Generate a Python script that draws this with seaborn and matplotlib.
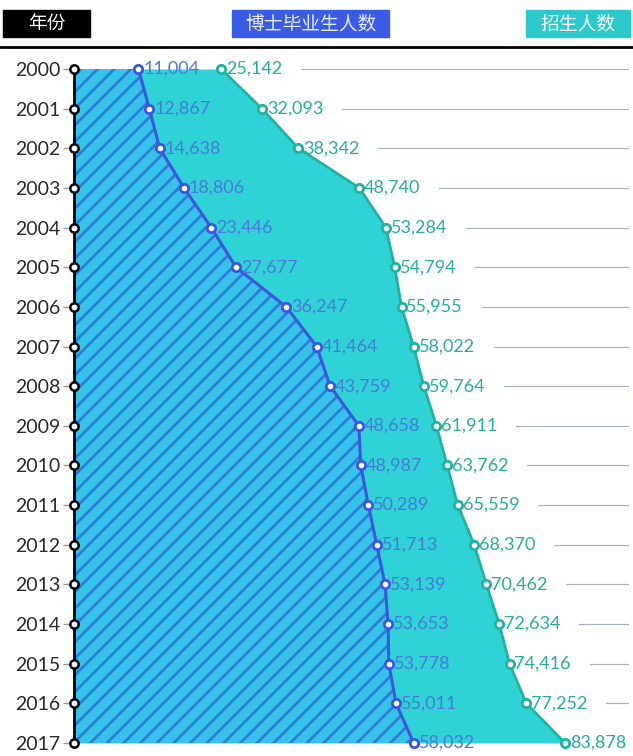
import matplotlib
matplotlib.use("Agg")
import matplotlib.pyplot as plt
import seaborn as sns
from matplotlib.patches import Rectangle
from matplotlib.lines import Line2D

# 数据
years = list(range(2000, 2018))
grad = [11004, 12867, 14638, 18806, 23446, 27677, 36247, 41464, 43759,
        48658, 48987, 50289, 51713, 53139, 53653, 53778, 55011, 58032]
enroll = [25142, 32093, 38342, 48740, 53284, 54794, 55955, 58022, 59764,
          61911, 63762, 65559, 68370, 70462, 72634, 74416, 77252, 83878]
headers = ["年份", "博士毕业生人数", "招生人数"]

sns.set_style("white")
plt.rcParams['font.family'] = ['Lato', 'Noto Sans CJK SC', 'DejaVu Sans']
plt.rcParams['hatch.linewidth'] = 2.0

W, H = 633, 756
fig = plt.figure(figsize=(W / 100, H / 100), dpi=100)

px_per_unit = (565 - 74) / 83878
row = (743 - 69) / 17
ax = fig.add_axes([74 / W, 0, (W - 74) / W, (H - 50) / H])
ax.set_xlim(0, (W - 74) / px_per_unit)
ax.set_ylim(2017 + 13 / row, 2000 - 19 / row)

cyan = "#2fd3d6"
teal = "#1fb3a3"
blue = "#3d55e0"

# 面积
ax.fill_betweenx(years, 0, enroll, color=cyan, lw=0, zorder=1, clip_on=False)
ax.fill_betweenx(years, 0, grad, facecolor="#35c3ea", edgecolor="#2c7dd8",
                 hatch="//", lw=0, zorder=2, clip_on=False)

# 网格线
off = 80 / px_per_unit
xend = (628 - 74) / px_per_unit
for y, v in zip(years, enroll):
    if v + off < xend:
        ax.plot([v + off, xend], [y, y], color="#a3b2be", lw=0.9, zorder=0)

# 折线
sns.lineplot(x=enroll, y=years, orient="y", sort=False, ax=ax, color=teal,
             lw=2, marker="o", markersize=6, markerfacecolor="white",
             markeredgecolor=teal, markeredgewidth=2, zorder=4, clip_on=False)
sns.lineplot(x=grad, y=years, orient="y", sort=False, ax=ax, color=blue,
             lw=2.2, marker="o", markersize=6, markerfacecolor="white",
             markeredgecolor=blue, markeredgewidth=2, zorder=5, clip_on=False)
sns.lineplot(x=[0] * len(years), y=years, orient="y", sort=False, ax=ax,
             color="black", lw=2, marker="o", markersize=6,
             markerfacecolor="white", markeredgecolor="black",
             markeredgewidth=1.8, zorder=6, clip_on=False)

for y, g, e in zip(years, grad, enroll):
    ax.annotate(f"{g:,}", (g, y), xytext=(3.5, 0), textcoords="offset points",
                ha="left", va="center", fontsize=13, color="#4a78dc",
                zorder=7, annotation_clip=False)
    ax.annotate(f"{e:,}", (e, y), xytext=(3.5, 0), textcoords="offset points",
                ha="left", va="center", fontsize=13, color="#25ad9f",
                zorder=7, annotation_clip=False)

ax.set_yticks(years)
ax.set_yticklabels([str(y) for y in years], fontsize=14, color="#2a2a2a")
ax.set_xticks([])
ax.tick_params(axis="y", length=8, width=1, color="#999999", pad=2, left=True)
sns.despine(ax=ax, left=True, bottom=True)

# 表头
boxes = [(3, 90, "black", "white"), (232, 389, "#3a5be6", "#e8eeff"),
         (526, 630, "#2cc9cb", "white")]
for (x0, x1, fc, tc), label in zip(boxes, headers):
    fig.patches.append(Rectangle((x0 / W, 1 - 37 / H), (x1 - x0) / W, 27 / H,
                                 transform=fig.transFigure, color=fc))
    fig.text((x0 + x1) / 2 / W, 1 - 23.5 / H, label, ha="center", va="center",
             fontsize=13.5, color=tc, family=['Noto Sans CJK SC', 'DejaVu Sans'])
fig.lines.append(Line2D([0, 1], [1 - 47 / H] * 2, transform=fig.transFigure,
                        color="black", lw=2))

fig.savefig("out.png", dpi=100)
